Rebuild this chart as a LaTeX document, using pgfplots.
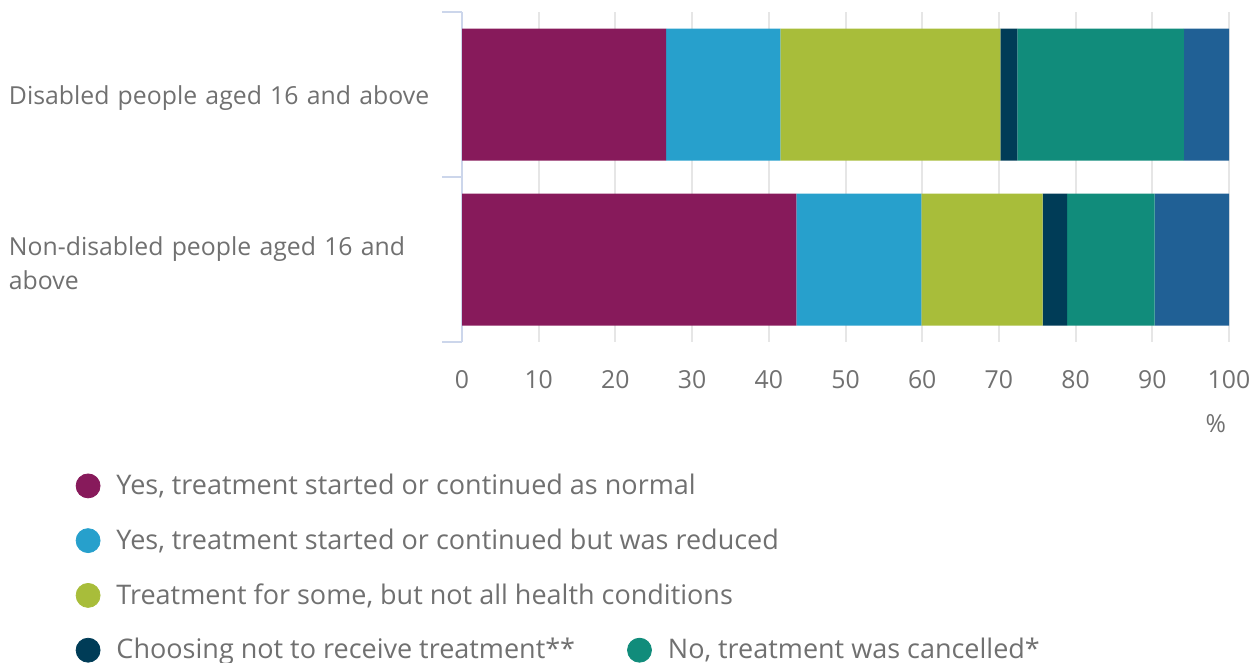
\documentclass[border=0pt]{standalone}
\usepackage{fontspec}
\setmainfont{Open Sans}
\usepackage{pgfplots}
\pgfplotsset{compat=1.18}
\definecolor{c1}{HTML}{871A5B}
\definecolor{c2}{HTML}{27A0CC}
\definecolor{c3}{HTML}{A8BD3A}
\definecolor{c4}{HTML}{003C57}
\definecolor{c5}{HTML}{118C7B}
\definecolor{c6}{HTML}{206095}
\definecolor{textgrey}{HTML}{707070}
\definecolor{gridgrey}{HTML}{E6E6E6}
\definecolor{axisblue}{HTML}{CCD6EB}
\newcommand\fsz{\fontsize{12.4pt}{17pt}\selectfont}
\newcommand\lsz{\fontsize{13.5pt}{16pt}\selectfont}
\begin{document}
\begin{tikzpicture}
\path[use as bounding box] (0,0) rectangle (629pt,-331.5pt);
\begin{axis}[
  at={(231pt,-171pt)}, anchor=south west,
  scale only axis, width=383.5pt, height=165pt,
  xbar stacked, bar width=66pt,
  xmin=0, xmax=100, ymin=-0.5, ymax=1.5,
  clip=false,
  axis y line*=left, axis x line*=bottom,
  x axis line style={draw=none},
  y axis line style={draw=axisblue, line width=1pt, -},
  xtick={0,10,...,100},
  xmajorgrids, grid style={draw=gridgrey, line width=1pt},
  major x tick style={draw=none},
  xticklabel style={font=\fsz, text=textgrey, yshift=-10.5pt},
  /pgf/number format/assume math mode=true,
  ytick={0,1},
  major y tick style={draw=none},
  yticklabels={{Non-disabled people aged 16 and\\above}, {Disabled people aged 16 and above}},
  yticklabel style={font=\fsz, text=textgrey, anchor=east, align=left, text width=211pt, xshift=-12pt, yshift=-2pt},
  extra y ticks={-0.5,0.5,1.5},
  extra y tick labels={},
  extra y tick style={major tick length=10pt, tick align=outside, major y tick style={draw=axisblue, line width=1pt}},
  legend columns=2,
  legend style={at={(-0.512,-0.375)}, anchor=north west, draw=none, fill=none,
    font=\lsz, text=textgrey, legend cell align=left,
    /tikz/every even column/.append style={column sep=24pt},
    row sep=11.6pt},
]
\addplot[fill=c1, draw=none, forget plot] coordinates {(43.6,0) (26.6,1)};
\addplot[fill=c2, draw=none, forget plot] coordinates {(16.3,0) (14.9,1)};
\addplot[fill=c3, draw=none, forget plot] coordinates {(15.8,0) (28.7,1)};
\addplot[fill=c4, draw=none, forget plot] coordinates {(3.2,0) (2.2,1)};
\addplot[fill=c5, draw=none, forget plot] coordinates {(11.4,0) (21.7,1)};
\addplot[fill=c6, draw=none, forget plot] coordinates {(9.7,0) (5.9,1)};
\addlegendimage{legend image code/.code={\fill[c1] (6pt,0pt) circle (6pt); \path (18pt,0pt);}}
\addlegendentry{\rlap{Yes, treatment started or continued as normal}}
\addlegendimage{empty legend}
\addlegendentry{}
\addlegendimage{legend image code/.code={\fill[c2] (6pt,0pt) circle (6pt); \path (18pt,0pt);}}
\addlegendentry{\rlap{Yes, treatment started or continued but was reduced}}
\addlegendimage{empty legend}
\addlegendentry{}
\addlegendimage{legend image code/.code={\fill[c3] (6pt,0pt) circle (6pt); \path (18pt,0pt);}}
\addlegendentry{\rlap{Treatment for some, but not all health conditions}}
\addlegendimage{empty legend}
\addlegendentry{}
\addlegendimage{legend image code/.code={\fill[c4] (6pt,0pt) circle (6pt); \path (18pt,0pt);}}
\addlegendentry{Choosing not to receive treatment**}
\addlegendimage{legend image code/.code={\fill[c5] (6pt,0pt) circle (6pt); \path (18pt,0pt);}}
\addlegendentry{No, treatment was cancelled*}
\node[anchor=east, text=textgrey, font=\fsz] at (rel axis cs:1,0) [xshift=2pt, yshift=-41pt] {\%};
\end{axis}
\end{tikzpicture}
\end{document}
